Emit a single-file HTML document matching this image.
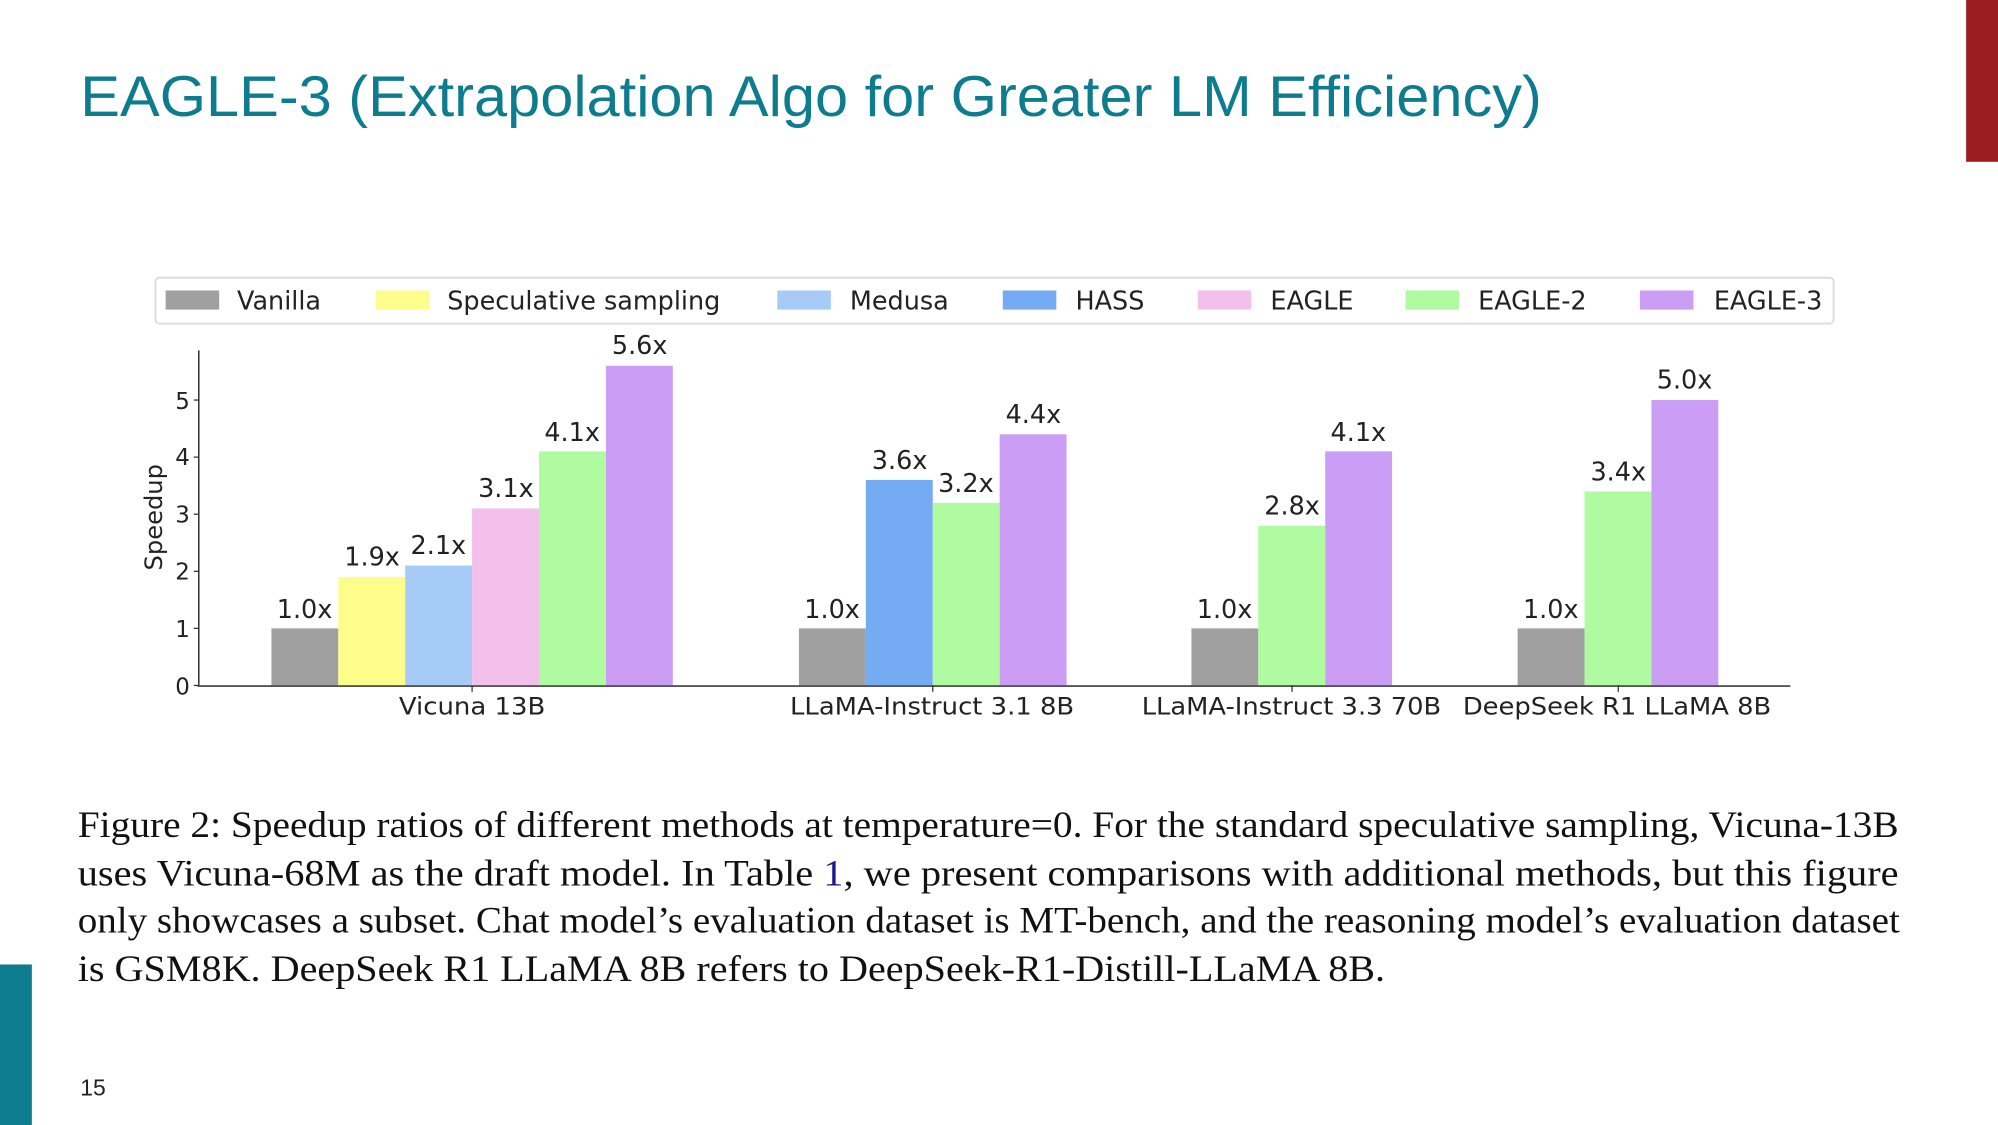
<!DOCTYPE html>
<html><head><meta charset="utf-8"><style>html,body{margin:0;padding:0;background:#fff;}svg{display:block}</style></head>
<body>
<svg width="1998" height="1125" viewBox="0 0 1568 883" preserveAspectRatio="none" xmlns="http://www.w3.org/2000/svg">
<rect width="1568" height="883" fill="#fff"/>
<rect x="1543" y="0" width="25" height="127" fill="#9b1c1f"/>
<rect x="0" y="757" width="25" height="126" fill="#0e7c8f"/>
<text x="63" y="91" font-family="Liberation Sans, sans-serif" font-size="45" fill="#0e7c8f" textLength="1147" lengthAdjust="spacingAndGlyphs">EAGLE-3 (Extrapolation Algo for Greater LM Efficiency)</text>
<text x="63" y="860" font-family="Liberation Sans, sans-serif" font-size="18" fill="#222">15</text>

<!-- legend -->
<rect x="122" y="218" width="1317" height="36" rx="3" fill="#fff" stroke="#ddd" stroke-width="1.5"/>
<g font-family="DejaVu Sans, sans-serif" font-size="20" fill="#222">
<rect x="130" y="228" width="42" height="15" fill="#a0a0a0"/><text x="186" y="243">Vanilla</text>
<rect x="295" y="228" width="42" height="15" fill="#fdfd8c"/><text x="351" y="243">Speculative sampling</text>
<rect x="610" y="228" width="42" height="15" fill="#a6cbf7"/><text x="667" y="243">Medusa</text>
<rect x="787" y="228" width="42" height="15" fill="#74abf3"/><text x="844" y="243">HASS</text>
<rect x="940" y="228" width="42" height="15" fill="#f2c0eb"/><text x="997" y="243">EAGLE</text>
<rect x="1103" y="228" width="42" height="15" fill="#b0fba2"/><text x="1160" y="243">EAGLE-2</text>
<rect x="1287" y="228" width="42" height="15" fill="#cc9df5"/><text x="1345" y="243">EAGLE-3</text>
</g>

<!-- bars: baseline 538, unit 44.8, width 52.5 -->
<g>
<rect x="213" y="493.2" width="52.5" height="44.8" fill="#a0a0a0"/>
<rect x="265.5" y="452.9" width="52.5" height="85.1" fill="#fdfd8c"/>
<rect x="318" y="443.9" width="52.5" height="94.1" fill="#a6cbf7"/>
<rect x="370.5" y="399.1" width="52.5" height="138.9" fill="#f2c0eb"/>
<rect x="423" y="354.3" width="52.5" height="183.7" fill="#b0fba2"/>
<rect x="475.5" y="287.1" width="52.5" height="250.9" fill="#cc9df5"/>

<rect x="627" y="493.2" width="52.5" height="44.8" fill="#a0a0a0"/>
<rect x="679.5" y="376.7" width="52.5" height="161.3" fill="#74abf3"/>
<rect x="732" y="394.6" width="52.5" height="143.4" fill="#b0fba2"/>
<rect x="784.5" y="340.9" width="52.5" height="197.1" fill="#cc9df5"/>

<rect x="935" y="493.2" width="52.5" height="44.8" fill="#a0a0a0"/>
<rect x="987.5" y="412.6" width="52.5" height="125.4" fill="#b0fba2"/>
<rect x="1040" y="354.3" width="52.5" height="183.7" fill="#cc9df5"/>

<rect x="1191" y="493.2" width="52.5" height="44.8" fill="#a0a0a0"/>
<rect x="1243.5" y="385.7" width="52.5" height="152.3" fill="#b0fba2"/>
<rect x="1296" y="314" width="52.5" height="224" fill="#cc9df5"/>
</g>

<g font-family="DejaVu Sans, sans-serif" font-size="20" fill="#222" text-anchor="middle">
<text x="239" y="485">1.0x</text>
<text x="292" y="444">1.9x</text>
<text x="344" y="435">2.1x</text>
<text x="397" y="390">3.1x</text>
<text x="449" y="346">4.1x</text>
<text x="502" y="278">5.6x</text>
<text x="653" y="485">1.0x</text>
<text x="706" y="368">3.6x</text>
<text x="758" y="386">3.2x</text>
<text x="811" y="332">4.4x</text>
<text x="961" y="485">1.0x</text>
<text x="1014" y="404">2.8x</text>
<text x="1066" y="346">4.1x</text>
<text x="1217" y="485">1.0x</text>
<text x="1270" y="377">3.4x</text>
<text x="1322" y="305">5.0x</text>
</g>

<!-- axes -->
<line x1="156" y1="275" x2="156" y2="538.5" stroke="#333" stroke-width="1.2"/>
<line x1="155" y1="538.5" x2="1405" y2="538.5" stroke="#555" stroke-width="1.5"/>
<g stroke="#333" stroke-width="1">
<line x1="152" y1="538" x2="156" y2="538"/><line x1="152" y1="493.2" x2="156" y2="493.2"/>
<line x1="152" y1="448.4" x2="156" y2="448.4"/><line x1="152" y1="403.6" x2="156" y2="403.6"/>
<line x1="152" y1="358.8" x2="156" y2="358.8"/><line x1="152" y1="314" x2="156" y2="314"/>
<line x1="370.5" y1="538" x2="370.5" y2="543"/><line x1="732" y1="538" x2="732" y2="543"/>
<line x1="1014" y1="538" x2="1014" y2="543"/><line x1="1270" y1="538" x2="1270" y2="543"/>
</g>
<g font-family="DejaVu Sans, sans-serif" font-size="18" fill="#222" text-anchor="end">
<text x="149" y="545">0</text><text x="149" y="500">1</text><text x="149" y="455">2</text>
<text x="149" y="410">3</text><text x="149" y="365">4</text><text x="149" y="321">5</text>
</g>
<text transform="translate(127,406) rotate(-90)" font-family="DejaVu Sans, sans-serif" font-size="19" fill="#222" text-anchor="middle">Speedup</text>
<g font-family="DejaVu Sans, sans-serif" font-size="19" fill="#222">
<text x="313" y="561" textLength="115" lengthAdjust="spacingAndGlyphs">Vicuna 13B</text>
<text x="620" y="561" textLength="223" lengthAdjust="spacingAndGlyphs">LLaMA-Instruct 3.1 8B</text>
<text x="896" y="561" textLength="235" lengthAdjust="spacingAndGlyphs">LLaMA-Instruct 3.3 70B</text>
<text x="1148" y="561" textLength="242" lengthAdjust="spacingAndGlyphs">DeepSeek R1 LLaMA 8B</text>
</g>

<!-- caption -->
<g font-family="Liberation Serif, serif" font-size="29" fill="#111">
<text x="61" y="657" textLength="1429" lengthAdjust="spacingAndGlyphs">Figure 2: Speedup ratios of different methods at temperature=0. For the standard speculative sampling, Vicuna-13B</text>
<text x="61" y="695" textLength="1429" lengthAdjust="spacingAndGlyphs">uses Vicuna-68M as the draft model. In Table <tspan fill="#1a1a8c">1</tspan>, we present comparisons with additional methods, but this figure</text>
<text x="61" y="732" textLength="1430" lengthAdjust="spacingAndGlyphs">only showcases a subset. Chat model’s evaluation dataset is MT-bench, and the reasoning model’s evaluation dataset</text>
<text x="61" y="770" textLength="1026" lengthAdjust="spacingAndGlyphs">is GSM8K. DeepSeek R1 LLaMA 8B refers to DeepSeek-R1-Distill-LLaMA 8B.</text>
</g>
</svg>
</body></html>
